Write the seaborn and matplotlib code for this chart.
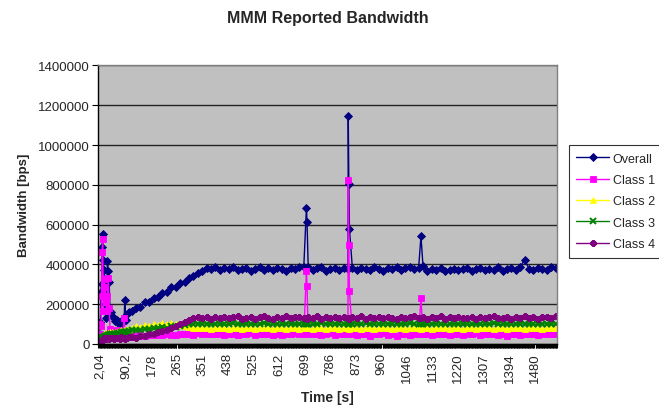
import matplotlib.pyplot as plt
import seaborn as sns
import numpy as np
import pandas as pd
from matplotlib.ticker import MultipleLocator, FixedLocator

# time stamps [s]
time_s = [
    2, 4, 6, 8, 10, 12, 14, 16, 18, 20, 22, 25, 28, 31, 34, 37, 40, 45, 50, 55,
    60, 65, 70, 75, 80, 85, 87, 90, 95, 100,
    110, 125, 140, 155, 170, 185, 200, 215, 230, 245, 260, 275, 290, 305, 320, 335, 350, 365, 380, 395,
    410, 425, 440, 455, 470, 485, 500, 515, 530, 545, 560, 575, 590, 605, 620, 635, 650, 665, 680, 695,
    704, 706, 710, 725, 740, 755, 770, 785, 800, 815, 830, 845, 846, 848, 850, 860, 875, 890, 905, 920,
    935, 950, 965, 980, 995, 1010, 1025, 1040, 1055, 1070, 1085, 1093, 1100, 1115, 1130, 1145, 1160, 1175, 1190, 1205,
    1220, 1235, 1250, 1265, 1280, 1295, 1310, 1325, 1340, 1355, 1370, 1385, 1400, 1415, 1430, 1445, 1460, 1475, 1490, 1505,
    1520, 1535, 1550,
]

# bandwidth values in kbps (converted to bps below)
overall_k = [
    50, 110, 260, 300, 490, 553, 420, 370, 312, 200, 130, 180, 419, 369, 312, 150, 160, 140, 130, 115,
    120, 105, 110, 100, 120, 130, 220, 120, 150, 160,
    165, 180, 185, 210, 212, 232, 238, 255, 262, 284, 288, 308, 312, 334, 342, 358, 368, 384, 376, 385,
    372, 381, 375, 388, 370, 379, 383, 368, 376, 386, 374, 380, 371, 384, 377, 369, 382, 375, 387, 388,
    686, 614, 385, 372, 380, 386, 369, 378, 383, 374, 380, 376, 1145, 805, 578, 382, 370, 384, 377, 372,
    386, 375, 369, 381, 378, 385, 372, 380, 388, 376, 382, 542, 390, 368, 375, 372, 380, 366, 374, 379,
    371, 377, 383, 368, 375, 381, 370, 378, 373, 385, 369, 376, 382, 371, 387, 424, 378, 370, 383, 376,
    372, 388, 384,
]
class1_k = [
    50, 100, 90, 243, 462, 528, 168, 236, 327, 287, 211, 168, 240, 330, 180, 75, 60, 55, 65, 50,
    70, 55, 50, 60, 55, 130, 60, 45, 40, 45,
    42, 45, 48, 40, 44, 47, 43, 45, 50, 46, 44, 52, 48, 50, 47, 53, 49, 51, 48, 50,
    50, 47, 52, 48, 45, 51, 49, 53, 46, 50, 48, 52, 47, 50, 44, 51, 49, 53, 48, 50,
    366, 290, 50, 48, 52, 47, 50, 53, 45, 49, 51, 48, 825, 498, 268, 50, 47, 52, 49, 40,
    50, 48, 53, 46, 50, 42, 49, 51, 47, 50, 48, 230, 52, 49, 45, 51, 48, 50, 46, 52,
    49, 47, 51, 48, 53, 46, 50, 48, 52, 47, 50, 42, 49, 51, 47, 50, 48, 52, 46, 50,
    49, 52, 50,
]
class2_k = [
    10, 20, 25, 30, 35, 40, 45, 40, 50, 45, 55, 50, 48, 55, 52, 58, 55, 60, 57, 62,
    58, 65, 60, 68, 62, 70, 65, 72, 68, 75,
    80, 88, 85, 95, 90, 100, 95, 105, 98, 108, 100, 95, 90, 85, 82, 80, 78, 80, 77, 79,
    78, 80, 76, 79, 81, 77, 78, 80, 76, 79, 78, 81, 77, 79, 80, 76, 78, 80, 77, 79,
    78, 80, 79, 77, 80, 78, 76, 79, 81, 77, 78, 80, 78, 79, 77, 80, 78, 76, 79, 81,
    77, 78, 80, 79, 76, 78, 81, 77, 79, 78, 80, 77, 79, 78, 76, 80, 78, 79, 77, 81,
    78, 76, 79, 80, 77, 78, 81, 79, 77, 78, 80, 76, 79, 78, 81, 77, 79, 80, 78, 77,
    79, 80, 78,
]
class3_k = [
    5, 15, 20, 25, 28, 30, 32, 35, 35, 38, 40, 42, 40, 45, 43, 48, 45, 50, 48, 52,
    50, 55, 52, 58, 55, 60, 58, 62, 60, 65,
    68, 72, 70, 76, 74, 80, 78, 84, 82, 88, 86, 92, 95, 98, 100, 102, 100, 101, 99, 102,
    100, 98, 101, 103, 99, 100, 102, 98, 101, 100, 103, 99, 100, 101, 98, 102, 100, 99, 101, 100,
    102, 99, 100, 98, 101, 103, 100, 99, 102, 100, 98, 101, 100, 102, 99, 100, 101, 98, 103, 100,
    99, 101, 100, 102, 98, 100, 101, 99, 103, 100, 98, 101, 100, 99, 102, 100, 101, 98, 100, 102,
    99, 101, 100, 98, 102, 100, 99, 101, 103, 100, 98, 101, 100, 99, 102, 100, 101, 99, 100, 102,
    100, 99, 101,
]
class4_k = [
    5, 10, 15, 20, 22, 25, 20, 28, 25, 30, 27, 32, 28, 30, 25, 32, 28, 30, 26, 32,
    28, 30, 25, 33, 28, 30, 27, 32, 30, 34,
    35, 32, 38, 42, 48, 52, 58, 65, 72, 78, 88, 98, 110, 122, 132, 135, 130, 138, 128, 134,
    131, 137, 129, 135, 140, 128, 133, 136, 126, 134, 139, 130, 127, 136, 132, 141, 129, 134, 137, 130,
    133, 128, 136, 131, 139, 127, 134, 132, 138, 129, 135, 131, 133, 130, 128, 136, 130, 140, 127, 134,
    131, 137, 129, 135, 132, 128, 138, 130, 134, 141, 129, 133, 136, 127, 135, 131, 139, 128, 134, 130,
    136, 129, 133, 138, 127, 135, 131, 134, 142, 129, 133, 137, 128, 135, 130, 139, 132, 136, 128, 134,
    137, 131, 140,
]

series_names = ['Overall', 'Class 1', 'Class 2', 'Class 3', 'Class 4']
series_vals = [overall_k, class1_k, class2_k, class3_k, class4_k]
colors = ['#000080', '#FF00FF', '#FFFF00', '#008000', '#800080']
markers = ['D', 's', '^', 'x', (6, 2, 0)]
msizes = [5.2, 5.2, 6, 5, 7.5]
medge = [0.6, 0.6, 0.6, 1.4, 1.8]

x_tick_vals = [2.04, 90.2, 178, 265, 351, 438, 525, 612, 699, 786, 873, 960,
               1046, 1133, 1220, 1307, 1394, 1480]
x_tick_labels = ['2,04', '90,2', '178', '265', '351', '438', '525', '612', '699', '786',
                 '873', '960', '1046', '1133', '1220', '1307', '1394', '1480']

sns.set_style("white")
plt.rcParams['font.family'] = ['Liberation Sans', 'DejaVu Sans']

df = pd.DataFrame({'time': time_s})
for name, vals in zip(series_names, series_vals):
    df[name] = np.array(vals) * 1000

fig = plt.figure(figsize=(6.59, 4.14), dpi=100)
ax = fig.add_axes([0.1487, 0.1667, 0.6965, 0.6727])
ax.set_facecolor('#C0C0C0')

for name, c, m, ms, mew in zip(series_names, colors, markers, msizes, medge):
    sns.lineplot(data=df, x='time', y=name, ax=ax, color=c, marker=m, markersize=ms,
                 markeredgecolor=c, markeredgewidth=mew,
                 linewidth=1, estimator=None, sort=False, label=name, legend=False)

ax.set_xlim(-4, 1555)
ax.set_ylim(0, 1400000)
ax.yaxis.set_major_locator(MultipleLocator(200000))
ax.set_yticklabels([f'{int(v)}' for v in ax.get_yticks()], fontsize=9.5)
ax.yaxis.grid(True, color='#222222', linewidth=1)
ax.set_axisbelow(True)

ax.xaxis.set_major_locator(FixedLocator(x_tick_vals))
ax.set_xticklabels(x_tick_labels, rotation=90, fontsize=9.5)
ax.xaxis.set_minor_locator(MultipleLocator(2.5))
ax.tick_params(axis='x', which='minor', bottom=True, length=3, width=0.8, color='black', direction='out')
ax.tick_params(axis='x', which='major', bottom=True, length=4, width=0.8, color='white', direction='out', pad=2)
ax.tick_params(axis='y', which='major', left=True, length=4, width=0.8, color='black', pad=2)

for s in ['top', 'right']:
    ax.spines[s].set_color('#808080')
    ax.spines[s].set_linewidth(1)
for s in ['left', 'bottom']:
    ax.spines[s].set_color('black')
    ax.spines[s].set_linewidth(1)

ax.set_xlabel('Time [s]', fontsize=10, fontweight='bold', labelpad=6)
ax.set_ylabel('Bandwidth [bps]', fontsize=9.5, fontweight='bold', labelpad=6)
fig.text(0.497, 0.955, 'MMM Reported Bandwidth', ha='center', va='center',
         fontsize=11.5, fontweight='bold')

handles, labels = ax.get_legend_handles_labels()
for h in handles:
    h.set_markersize(4.5)
leg = fig.legend(handles, labels, loc='upper left', bbox_to_anchor=(0.8634, 0.6473),
                 borderaxespad=0, fontsize=9, frameon=True, fancybox=False,
                 edgecolor='black', handlelength=2.6, labelspacing=0.75,
                 handletextpad=0.3, borderpad=0.6)
leg.get_frame().set_linewidth(0.8)

fig.savefig('out.png', dpi=100)
